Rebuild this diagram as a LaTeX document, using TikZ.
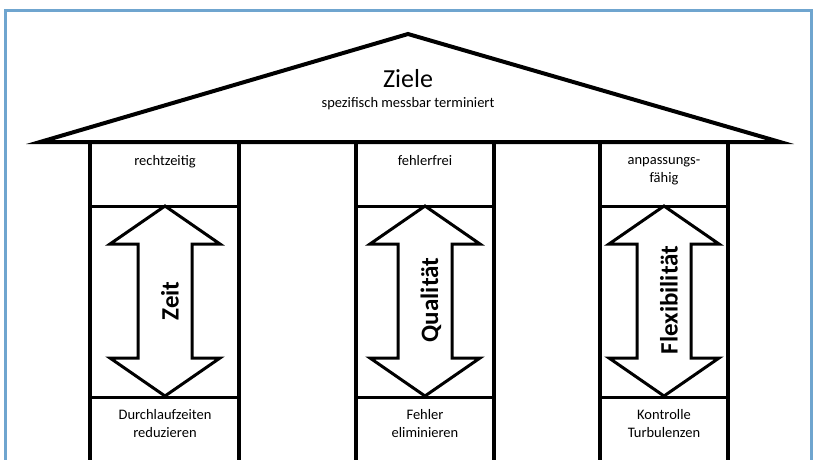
\documentclass[tikz,border=0pt]{standalone}
\usepackage{fontspec}
\setmainfont{Carlito}
\definecolor{frameblue}{HTML}{6FA5CF}
\begin{document}
\begin{tikzpicture}[x=1pt,y=-1pt,
  roofline/.style={line width=4pt,line join=miter},
  pillarline/.style={line width=3.4pt},
  capline/.style={line width=3pt},
  arrowshape/.style={line width=3pt,line join=miter,fill=white},
  smalltext/.style={font=\fontsize{14.5}{18}\selectfont,align=center,inner sep=0pt},
  bigtext/.style={font=\bfseries\fontsize{25}{30}\selectfont,rotate=90,inner sep=0pt}]
\useasboundingbox (0,0) rectangle (814,459);
\fill[white] (0,0) rectangle (814,459);
% frame
\draw[frameblue,line width=3pt] (5.5,470) -- (5.5,10.5) -- (811.5,10.5) -- (811.5,470);
% roof
\draw[roofline] (40,142) -- (408,34) -- (780,142) -- cycle;
\node[inner sep=0pt,anchor=base,font=\fontsize{26}{30}\selectfont] (ziele) at (408,87) {Ziele};
\node[smalltext,anchor=base] (spez) at (408,107) {spezifisch messbar terminiert};
% pillars
\foreach \l/\r/\n in {90/239/a,356/494/b,600/728/c}{
  \draw[pillarline] (\l,143) -- (\l,470);
  \draw[pillarline] (\r,143) -- (\r,470);
  \draw[capline] (\l,206) -- (\r,206);
  \draw[capline] (\l,397) -- (\r,397);
}
% arrows
\foreach \c/\n in {165/a,425/b,664/c}{
  \draw[arrowshape] (\c,206) -- (\c+55,244) -- (\c+27,244) -- (\c+27,358) -- (\c+55,358)
     -- (\c,396) -- (\c-55,358) -- (\c-27,358) -- (\c-27,244) -- (\c-55,244) -- cycle;
}
% capital texts
\node[smalltext,anchor=base] (ta) at (165,165) {rechtzeitig};
\node[smalltext,anchor=base] (tb) at (425,165) {fehlerfrei};
\node[smalltext,anchor=base] (tc) at (664,182) {anpassungs-\\fähig};
% base texts
\node[smalltext,anchor=base] (ba) at (165,437) {Durchlaufzeiten\\reduzieren};
\node[smalltext,anchor=base] (bb) at (425,437) {Fehler\\eliminieren};
\node[smalltext,anchor=base] (bc) at (664,437) {Kontrolle\\Turbulenzen};
% rotated texts
\node[bigtext] (za) at (170,301) {Zeit};
\node[bigtext] (zb) at (431,300) {Qualität};
\node[bigtext] (zc) at (669,300) {Flexibilität};
\end{tikzpicture}
\end{document}
